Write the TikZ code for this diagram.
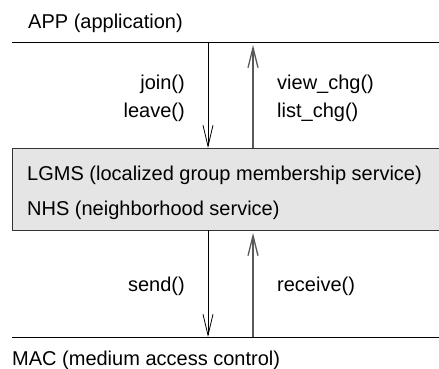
\documentclass[tikz,border=0pt]{standalone}
\usepackage{fontspec}
\setmainfont{Liberation Sans}
\usetikzlibrary{arrows.meta}
\tikzset{
  label font/.style={inner sep=0pt,font=\fontsize{20}{24}\selectfont},
  layer name/.style={label font,anchor=base west},
  call left/.style={label font,anchor=base east},
  call right/.style={label font,anchor=base west},
  layer line/.style={draw=black,line width=0.9pt},
  service box/.style={draw=black!80,line width=0.9pt,fill=black!10},
  down call/.style={draw=black,line width=0.8pt,-{Straight Barb[length=21pt,width=10pt]}},
  up call/.style={draw=black!65,line width=1.3pt,-{Straight Barb[length=20pt,width=10pt]}},
}
\begin{document}
\begin{tikzpicture}[x=1pt,y=-1pt]
  \useasboundingbox (0,0) rectangle (439,369);
  % layers
  \node[layer name] (app) at (28,29) {APP (application)};
  \draw[layer line] (12,42) -- (442,42);
  \draw[service box] (12,148) rectangle (445,230);
  \node[layer name] (lgms) at (27,180) {LGMS (localized group membership service)};
  \node[layer name] (nhs) at (27,215) {NHS (neighborhood service)};
  \draw[layer line] (12,337) -- (442,337);
  \node[layer name] (mac) at (12,365) {MAC (medium access control)};
  % ends of the calls
  \coordinate (app down) at (208,42);
  \coordinate (app up) at (253,45);
  \coordinate (box top down) at (208,148);
  \coordinate (box top up) at (253,148);
  \coordinate (box bot down) at (208,230);
  \coordinate (box bot up) at (253,233);
  \coordinate (mac down) at (208,337);
  \coordinate (mac up) at (253,337);
  % calls
  \draw[down call] (app down) -- (box top down);
  \draw[up call] (box top up) -- (app up);
  \draw[down call] (box bot down) -- (mac down);
  \draw[up call] (mac up) -- (box bot up);
  \node[call left] (join) at (185,89) {join()};
  \node[call left] (leave) at (185,117) {leave()};
  \node[call right] (view) at (277,89) {view\_chg()};
  \node[call right] (list) at (277,117) {list\_chg()};
  \node[call left] (send) at (185,291) {send()};
  \node[call right] (receive) at (277,291) {receive()};
\end{tikzpicture}
\end{document}
